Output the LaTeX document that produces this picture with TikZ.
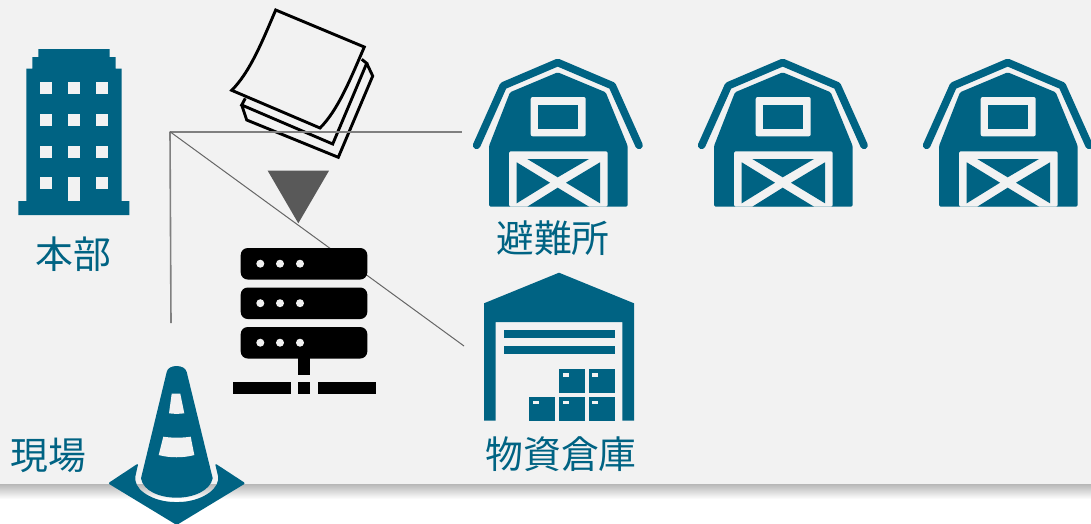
\documentclass[tikz,border=0pt]{standalone}
\usepackage{fontspec}
\setmainfont{Noto Sans CJK JP}
\definecolor{iconblue}{HTML}{006383}
\definecolor{panelgray}{HTML}{F2F2F2}
\tikzset{
label/.style={text=iconblue,font=\fontsize{37.8}{38}\selectfont,inner sep=0pt},
wire/.style={draw=black!50,line width=1.6pt},
sheet/.style={draw=black,line width=2.9pt,line join=miter},
barn/.pic={
\draw[iconblue,line width=7.6pt,line cap=round,line join=round](476.7,145.3)--(503.3,85.7)--(557.7,62.5)--(612.3,85.7)--(639,145.3);
\fill[iconblue,rounded corners=1.5pt](489,146)--(510,92.3)--(557.7,72.3)--(605.7,92.3)--(627.7,146)--(627.7,206.7)--(489,206.7)--cycle;
\fill[panelgray,rounded corners=2pt](530.7,97)rectangle(585.7,136.3);
\fill[iconblue](538,105)rectangle(578,129);
\fill[panelgray,rounded corners=1.5pt](509,151.3)--(607.7,151.3)--(607.7,206.7)--(509,206.7)--cycle;
\fill[iconblue](527.3,159)--(589,159)--(557.7,177.3)--cycle;
\fill[iconblue](516.7,162.3)--(550,182.7)--(516.7,203.3)--cycle;
\fill[iconblue](600,162.3)--(566,182.7)--(600,203.3)--cycle;
\fill[iconblue](527.3,206.7)--(589,206.7)--(557.7,187.7)--cycle;
},
crate/.pic={
\fill[iconblue](0,0)rectangle(26,24);
\fill[panelgray](3.7,4)rectangle(9.7,7.7);
}
}
\begin{document}
\begin{tikzpicture}[x=1pt,y=-1pt]
\useasboundingbox(0,0)rectangle(1091,523);
\shade[top color=black!32,bottom color=white](0,482)rectangle(1091,499);
\fill[panelgray](0,0)rectangle(1091,484);

\draw[sheet](275.7,10)--(364.3,47).. controls (350,80) and (338,110) .. (320,128)--(231.7,90.3).. controls (250,72) and (262,42) .. cycle;
\draw[sheet](245.3,98.3)--(241.7,105)--(332.7,144)--(366.7,63.3)--(361.7,59.3);
\draw[sheet](241.7,105)--(246.7,120)--(338.3,157.3)--(372.7,76)--(366.7,63.3);

\coordinate(hub)at(170,131.7);
\coordinate(barnend)at(462,131.7);
\coordinate(coneend)at(171,323);
\coordinate(storeend)at(464,346);
\draw[wire](hub)--(barnend);
\draw[wire](hub)--(coneend);
\draw[draw=black!60,line width=1pt](hub)--(storeend);

\fill[iconblue](38.3,49)--(109.7,49)--(109.7,57)--(115.7,57)--(115.7,68.7)--(121.7,68.7)--(121.7,201)--(129.3,201)--(129.3,215)--(18.3,215)--(18.3,201)--(26.3,201)--(26.3,68.7)--(32.3,68.7)--(32.3,57)--(38.3,57)--cycle;
\foreach \y in {82.3,114,145.7,177.3}{
\foreach \x in {40.3,68,95.7}{
\fill[panelgray](\x,\y)rectangle++(12,12);
}
}
\fill[panelgray](68,177.3)rectangle(80,201);
\node[label](hq)at(73.5,254){本部};

\fill[black!65](267.7,170.7)--(329,170.7)--(298.3,223.3)--cycle;

\foreach \y in {248,287.5,327}{
\fill[black,rounded corners=7pt](240.7,\y)rectangle++(126.6,31.5);
\foreach \x in {260.3,280,300}{
\fill[panelgray](\x,\y+15.7)circle(4);
}
}
\fill[black](298,358)rectangle(310,375);
\fill[black](233,382)rectangle(291,394);
\fill[black](298,382)rectangle(310,394);
\fill[black](318,382)rectangle(376,394);

\pic at(0,0){barn};
\pic at(225,0){barn};
\pic at(450,0){barn};
\node[label](shelter)at(553,238){避難所};

\fill[iconblue](484,303.3)--(559,272.7)--(634,303.3)--(634,420.7)--(622.3,420.7)--(622.3,322)--(495.7,322)--(495.7,420.7)--(484,420.7)--cycle;
\fill[iconblue](504,330)rectangle(615,338);
\fill[iconblue](504,346)rectangle(615,354);
\pic at(559,369.3){crate};
\pic at(588.7,369.3){crate};
\pic at(529.3,396.7){crate};
\pic at(559,396.7){crate};
\pic at(588.7,396.7){crate};
\node[label](store)at(561,454){物資倉庫};

\node[label](site)at(48,455){現場};
\fill[iconblue,rounded corners=2pt](138.3,463.3)--(108,483.3)--(176.7,525)--(245.5,483.3)--(215,463.3)--(218.5,478).. controls (216,493) and (196,502) .. (176.7,502).. controls (157,502) and (137,493) .. (135,478)--cycle;
\fill[iconblue](166.7,372).. controls (168,364) and (185,364) .. (186.7,372)--(212.7,478.3).. controls (210,491) and (193,497.7) .. (176.7,497.7).. controls (160,497.7) and (143,491) .. (141,478.3)--cycle;
\fill[panelgray](171.7,393.7)--(180.3,393.7)--(184.3,413.3).. controls (179,414) and (174,414) .. (169,413.3)--cycle;
\fill[panelgray](163.3,436.7).. controls (172,438) and (182,438) .. (190.7,436.7)--(194.3,455).. controls (184,458) and (169,458) .. (158.7,455)--cycle;
\end{tikzpicture}
\end{document}
